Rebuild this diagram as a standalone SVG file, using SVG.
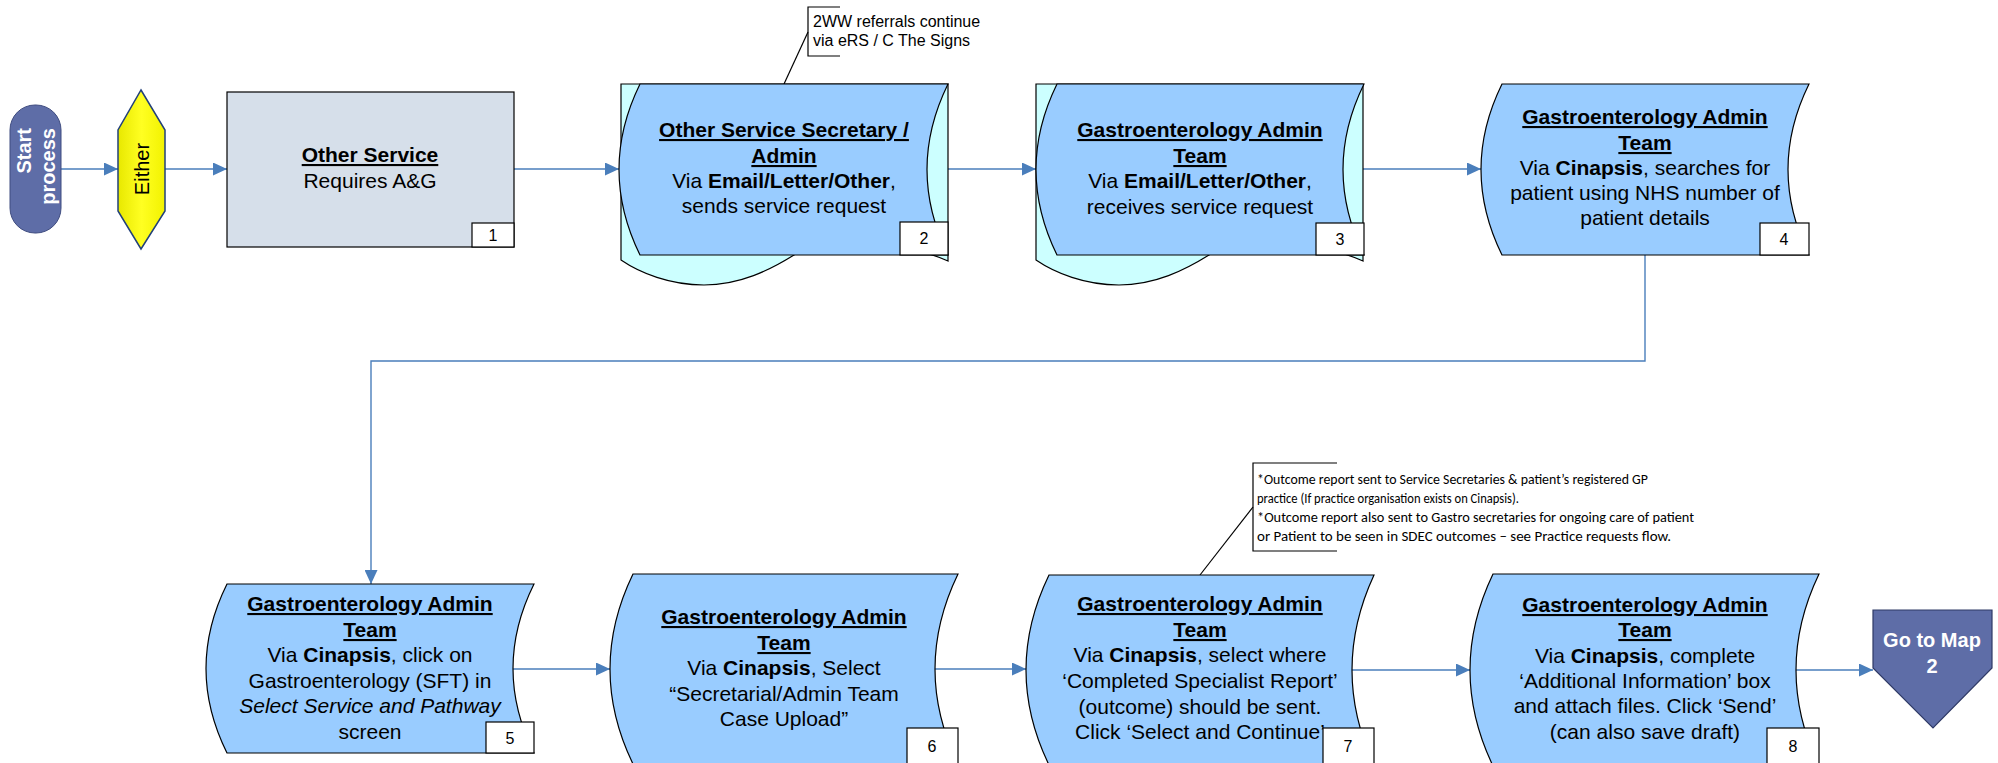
<svg xmlns="http://www.w3.org/2000/svg" width="1998" height="763" viewBox="0 0 1998 763">
<defs>
<marker id="arr" markerUnits="userSpaceOnUse" markerWidth="14" markerHeight="13" refX="14" refY="6.5" orient="auto">
<path d="M0,0 L14,6.5 L0,13 Z" fill="#4A7EBB"/>
</marker>
<linearGradient id="yel" x1="0" y1="0" x2="1" y2="0">
<stop offset="0" stop-color="#E8E800"/>
<stop offset="0.5" stop-color="#FFFF22"/>
<stop offset="1" stop-color="#F2F200"/>
</linearGradient>
<style>
.t{font-family:"Liberation Sans",Arial,sans-serif;font-size:21px;fill:#000;text-anchor:middle}
.h{font-weight:bold;text-decoration:underline}
.b{font-weight:bold}
.front{fill:#99CCFF;stroke:#000;stroke-width:1.2}
.back{fill:#CCFFFF;stroke:#000;stroke-width:1.2}
.num{fill:#fff;stroke:#000;stroke-width:1.2}
.nt{font-family:"Liberation Sans",Arial,sans-serif;font-size:16px;text-anchor:middle;fill:#000}
.c{fill:none;stroke:#4A7EBB;stroke-width:1.4}
.ca{marker-end:url(#arr)}
.note{fill:none;stroke:#000;stroke-width:1.2}
.cal{font-family:Carlito,Calibri,Lato,sans-serif;font-size:15px;fill:#000}
.n2t{font-family:"Liberation Sans",Arial,sans-serif;font-size:16px;fill:#000}
.w{font-family:"Liberation Sans",Arial,sans-serif;font-size:20px;font-weight:bold;fill:#fff;text-anchor:middle}
</style>
</defs>

<g id="connectors">
<line class="c ca" x1="61" y1="169" x2="118" y2="169"/>
<line class="c ca" x1="165" y1="169" x2="227" y2="169"/>
<line class="c ca" x1="514" y1="169" x2="619" y2="169"/>
<line class="c ca" x1="927" y1="169" x2="1036" y2="169"/>
<line class="c ca" x1="1343" y1="169" x2="1481" y2="169"/>
<polyline class="c ca" points="1645,255 1645,361 371,361 371,584"/>
<line class="c ca" x1="513" y1="669" x2="610" y2="669"/>
<line class="c ca" x1="935" y1="669" x2="1026" y2="669"/>
<line class="c ca" x1="1352" y1="670" x2="1470" y2="670"/>
<line class="c ca" x1="1796" y1="670" x2="1873" y2="670"/>
</g>

<g id="start">
<rect x="10" y="105" width="51" height="128" rx="25" ry="25" fill="#5E6DA7" stroke="#3F4C80" stroke-width="1"/>
<text class="w" transform="translate(31,128) rotate(-90)" style="text-anchor:end">Start</text>
<text class="w" transform="translate(55,128) rotate(-90)" style="text-anchor:end">process</text>
</g>

<g id="either">
<polygon points="141,90 165,130 165,211 141,249 118,211 118,130" fill="url(#yel)" stroke="#22407A" stroke-width="1.5"/>
<text class="t" style="font-size:20px" transform="translate(149,169) rotate(-90)">Either</text>
</g>

<g id="n1">
<rect x="227" y="92" width="287" height="155" fill="#D6DFEA" stroke="#000" stroke-width="1.2"/>
<text class="t h" x="370" y="162">Other Service</text>
<text class="t" x="370" y="188">Requires A&amp;G</text>
<rect class="num" x="472" y="223" width="42" height="24"/>
<text class="nt" x="493" y="241">1</text>
</g>

<g id="note2">
<path class="note" d="M840,7 H808 V56 H840"/>
<line class="note" x1="808" y1="32" x2="784" y2="84"/>
<text class="n2t" x="813" y="27">2WW referrals continue</text>
<text class="n2t" x="813" y="46">via eRS / C The Signs</text>
</g>

<g id="n2">
<path class="back" d="M621,84 H948 V261 C900,240 830,236 794,255 C770,270 740,285 704,285 C670,285 640,273 621,260 Z"/>
<path class="front" d="M640,84 H948 Q906,169.5 948,255 H640 Q598,169.5 640,84 Z"/>
<text class="t h" x="784" y="137">Other Service Secretary /</text>
<text class="t h" x="784" y="163">Admin</text>
<text class="t" x="784" y="188">Via <tspan class="b">Email/Letter/Other</tspan>,</text>
<text class="t" x="784" y="213">sends service request</text>
<rect class="num" x="900" y="222" width="48" height="33"/>
<text class="nt" x="924" y="244">2</text>
</g>

<g id="n3">
<path class="back" d="M1036,84 H1363 V261 C1315,240 1245,236 1209,255 C1185,270 1155,285 1119,285 C1085,285 1055,273 1036,260 Z"/>
<path class="front" d="M1057,84 H1364 Q1322,169.5 1364,255 H1057 Q1015,169.5 1057,84 Z"/>
<text class="t h" x="1200" y="137">Gastroenterology Admin</text>
<text class="t h" x="1200" y="163">Team</text>
<text class="t" x="1200" y="188">Via <tspan class="b">Email/Letter/Other</tspan>,</text>
<text class="t" x="1200" y="214">receives service request</text>
<rect class="num" x="1316" y="223" width="48" height="32"/>
<text class="nt" x="1340" y="245">3</text>
</g>

<g id="n4">
<path class="front" d="M1502,84 H1809 Q1767,169.5 1809,255 H1502 Q1460,169.5 1502,84 Z"/>
<text class="t h" x="1645" y="124">Gastroenterology Admin</text>
<text class="t h" x="1645" y="150">Team</text>
<text class="t" x="1645" y="175">Via <tspan class="b">Cinapsis</tspan>, searches for</text>
<text class="t" x="1645" y="200">patient using NHS number of</text>
<text class="t" x="1645" y="225">patient details</text>
<rect class="num" x="1760" y="223" width="49" height="32"/>
<text class="nt" x="1784" y="245">4</text>
</g>

<g id="n5">
<path class="front" d="M227,584 H534 Q492,668.5 534,753 H227 Q185,668.5 227,584 Z"/>
<text class="t h" x="370" y="611">Gastroenterology Admin</text>
<text class="t h" x="370" y="637">Team</text>
<text class="t" x="370" y="662">Via <tspan class="b">Cinapsis</tspan>, click on</text>
<text class="t" x="370" y="688">Gastroenterology (SFT) in</text>
<text class="t" x="370" y="713" font-style="italic">Select Service and Pathway</text>
<text class="t" x="370" y="739">screen</text>
<rect class="num" x="486" y="722" width="48" height="31"/>
<text class="nt" x="510" y="744">5</text>
</g>

<g id="n6">
<path class="front" d="M633,574 H958 Q912,669 958,764 H633 Q587,669 633,574 Z"/>
<text class="t h" x="784" y="624">Gastroenterology Admin</text>
<text class="t h" x="784" y="650">Team</text>
<text class="t" x="784" y="675">Via <tspan class="b">Cinapsis</tspan>, Select</text>
<text class="t" x="784" y="701">“Secretarial/Admin Team</text>
<text class="t" x="784" y="726">Case Upload”</text>
<rect class="num" x="907" y="728" width="51" height="37"/>
<text class="nt" x="932" y="752">6</text>
</g>

<g id="note7">
<path class="note" d="M1337,463 H1253 V551 H1337"/>
<line class="note" x1="1253" y1="507" x2="1200" y2="575"/>
<text class="cal" x="1257" y="484" textLength="391" lengthAdjust="spacingAndGlyphs">*Outcome report sent to Service Secretaries &amp; patient’s registered GP</text>
<text class="cal" x="1257" y="503" textLength="262" lengthAdjust="spacingAndGlyphs">practice (If practice organisation exists on Cinapsis).</text>
<text class="cal" x="1257" y="522" textLength="437" lengthAdjust="spacingAndGlyphs">*Outcome report also sent to Gastro secretaries for ongoing care of patient</text>
<text class="cal" x="1257" y="541" textLength="414" lengthAdjust="spacingAndGlyphs">or Patient to be seen in SDEC outcomes – see Practice requests flow.</text>
</g>

<g id="n7">
<path class="front" d="M1049,575 H1374 Q1330,670 1374,765 H1049 Q1003,670 1049,575 Z"/>
<text class="t h" x="1200" y="611">Gastroenterology Admin</text>
<text class="t h" x="1200" y="637">Team</text>
<text class="t" x="1200" y="662">Via <tspan class="b">Cinapsis</tspan>, select where</text>
<text class="t" x="1200" y="688">‘Completed Specialist Report’</text>
<text class="t" x="1200" y="714">(outcome) should be sent.</text>
<text class="t" x="1200" y="739">Click ‘Select and Continue’</text>
<rect class="num" x="1323" y="728" width="51" height="37"/>
<text class="nt" x="1348" y="752">7</text>
</g>

<g id="n8">
<path class="front" d="M1493,574 H1819 Q1773,670 1819,766 H1493 Q1447,670 1493,574 Z"/>
<text class="t h" x="1645" y="612">Gastroenterology Admin</text>
<text class="t h" x="1645" y="637">Team</text>
<text class="t" x="1645" y="663">Via <tspan class="b">Cinapsis</tspan>, complete</text>
<text class="t" x="1645" y="688">‘Additional Information’ box</text>
<text class="t" x="1645" y="713">and attach files. Click ‘Send’</text>
<text class="t" x="1645" y="739">(can also save draft)</text>
<rect class="num" x="1767" y="728" width="52" height="37"/>
<text class="nt" x="1793" y="752">8</text>
</g>

<g id="goto">
<polygon points="1873,610 1992,610 1992,668 1933,728 1873,668" fill="#5E6DA7" stroke="#2F3A66" stroke-width="1.2"/>
<text class="w" x="1932" y="647">Go to Map</text>
<text class="w" x="1932" y="673">2</text>
</g>
</svg>
